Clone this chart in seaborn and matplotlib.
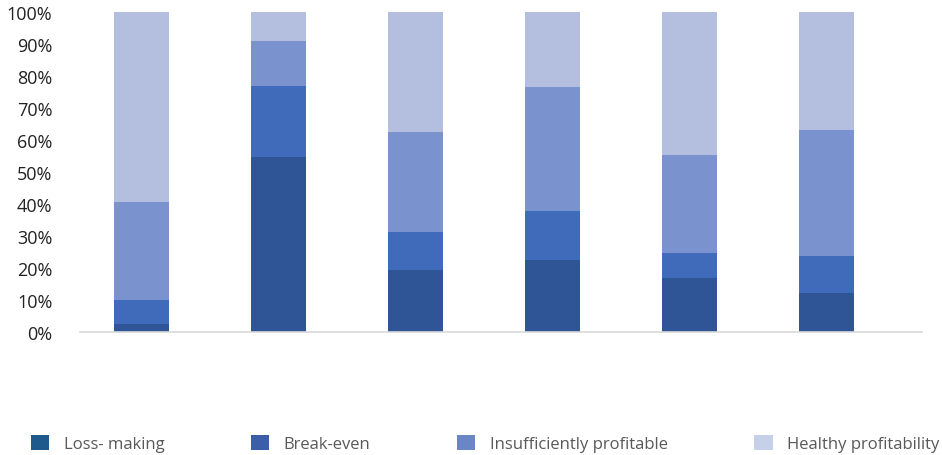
import matplotlib
matplotlib.use("Agg")
import matplotlib.pyplot as plt
from matplotlib.patches import Patch
import seaborn as sns
import numpy as np
import pandas as pd

# Data (shares in %)
groups = ["1", "2", "3", "4", "5", "6"]
loss_making = [2.4, 54.8, 19.5, 22.6, 16.8, 12.3]
break_even = [7.5, 22.0, 11.9, 15.3, 7.8, 11.6]
insufficient = [30.6, 14.0, 31.2, 38.8, 30.6, 39.3]
healthy = [59.5, 9.2, 37.4, 23.3, 44.8, 36.8]

series_names = ["Loss- making", "Break-even", "Insufficiently profitable", "Healthy profitability"]
bar_colors = ["#2f5597", "#3f6bba", "#7a93cf", "#b4bfe0"]
legend_colors = ["#1f5a8c", "#3a5fa8", "#6a86c4", "#c6d0e8"]

sns.set_style("white")
plt.rcParams["font.family"] = ["Open Sans", "DejaVu Sans"]

df = pd.DataFrame({"group": groups})
stack = np.cumsum([loss_making, break_even, insufficient, healthy], axis=0) / 100.0

fig = plt.figure(figsize=(9.42, 4.56), dpi=100)
ax = fig.add_axes([0.085, 0.2697, 0.894, 0.7018])

# draw cumulative totals from the top segment down so the lower ones overlay
for i in range(3, -1, -1):
    df["val"] = stack[i]
    sns.barplot(data=df, x="group", y="val", color=bar_colors[i], width=0.4,
                linewidth=0, saturation=1, ax=ax)

ax.set_ylim(0, 1)
ax.set_xlim(-0.45, 5.7)
ax.set_yticks(np.arange(0, 1.01, 0.1))
ax.set_yticklabels([f"{int(round(v * 100))}%" for v in np.arange(0, 1.01, 0.1)],
                   fontsize=13, color="#222222")
ax.set_xticks([])
ax.set_xlabel("")
ax.set_ylabel("")
ax.tick_params(axis="y", length=0, pad=20)
for s in ["top", "right", "left"]:
    ax.spines[s].set_visible(False)
ax.spines["bottom"].set_color("#d9d9d9")
ax.spines["bottom"].set_linewidth(1.2)

handles = [Patch(facecolor=c, edgecolor="none") for c in legend_colors]
fig.legend(handles, series_names, loc="lower left", ncol=4, mode="expand",
           bbox_to_anchor=(0.026, -0.008, 0.978, 0.06), frameon=False,
           fontsize=12, handlelength=1.1, handleheight=1.0, handletextpad=0.85,
           borderaxespad=0, labelcolor="#595959")

fig.savefig("out.png", dpi=100)
